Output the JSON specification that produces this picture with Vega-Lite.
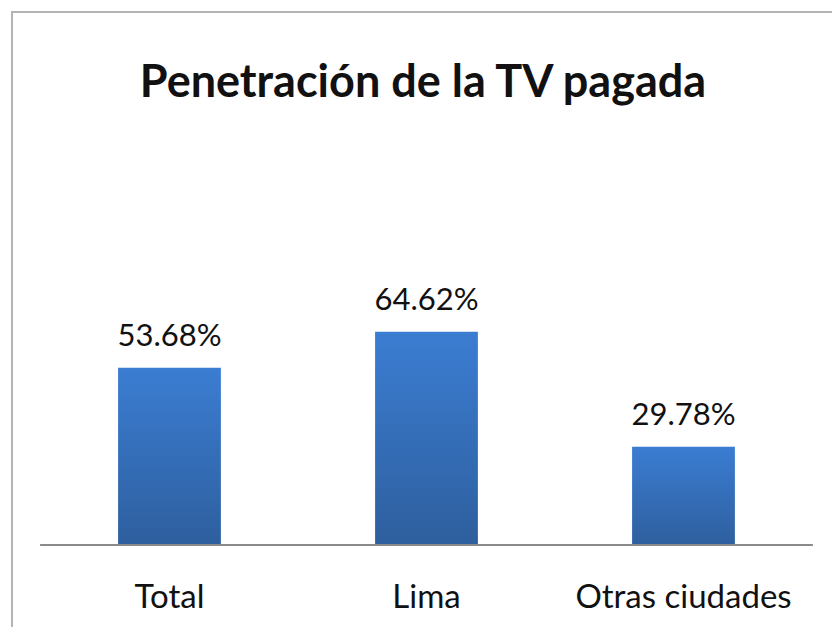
{
  "$schema": "https://vega.github.io/schema/vega-lite/v6.json",
  "autosize": {"type": "none"},
  "width": 822,
  "height": 617,
  "padding": {"left": 12, "top": 12, "right": -2, "bottom": -2},
  "background": "#ffffff",
  "config": {
    "view": {"stroke": "#b4b4b4", "strokeWidth": 2},
    "font": "Lato"
  },
  "title": {
    "text": "Penetración de la TV pagada",
    "font": "Lato",
    "fontSize": 45,
    "fontWeight": "bold",
    "color": "#111111",
    "anchor": "middle",
    "baseline": "alphabetic",
    "offset": -130
  },
  "data": {
    "values": [
      {"categoria": "Total", "valor": 53.68, "etiqueta": "53.68%"},
      {"categoria": "Lima", "valor": 64.62, "etiqueta": "64.62%"},
      {"categoria": "Otras ciudades", "valor": 29.78, "etiqueta": "29.78%"}
    ]
  },
  "encoding": {
    "x": {
      "field": "categoria",
      "type": "nominal",
      "sort": null,
      "scale": {"paddingInner": 0.6, "paddingOuter": 0.3992, "align": 0.517},
      "axis": {
        "title": null,
        "orient": "bottom",
        "offset": -22,
        "domain": false,
        "ticks": false,
        "labelAngle": 0,
        "labelBaseline": "alphabetic",
        "labelPadding": 0,
        "labelLimit": 500,
        "labelFont": "Lato",
        "labelFontSize": 33,
        "labelColor": "#111111"
      }
    }
  },
  "layer": [
    {
      "mark": {
        "type": "bar",
        "color": {
          "gradient": "linear",
          "x1": 0, "y1": 0, "x2": 0, "y2": 1,
          "stops": [
            {"offset": 0, "color": "#3b7dd2"},
            {"offset": 1, "color": "#2e5f9e"}
          ]
        }
      },
      "encoding": {
        "y": {
          "field": "valor",
          "type": "quantitative",
          "scale": {"domain": [-25.45, 161.5], "nice": false, "zero": false},
          "axis": null
        }
      }
    },
    {
      "mark": {"type": "text", "baseline": "alphabetic", "dy": -22, "font": "Lato", "fontSize": 31, "color": "#111111"},
      "encoding": {
        "y": {"field": "valor", "type": "quantitative"},
        "text": {"field": "etiqueta"}
      }
    },
    {
      "mark": {"type": "rule", "color": "#8a8a8a", "strokeWidth": 1.5},
      "encoding": {
        "x": {"datum": "Total", "bandPosition": -0.757},
        "x2": {"datum": "Otras ciudades", "bandPosition": 1.757},
        "y": {"datum": 0}
      }
    }
  ]
}
